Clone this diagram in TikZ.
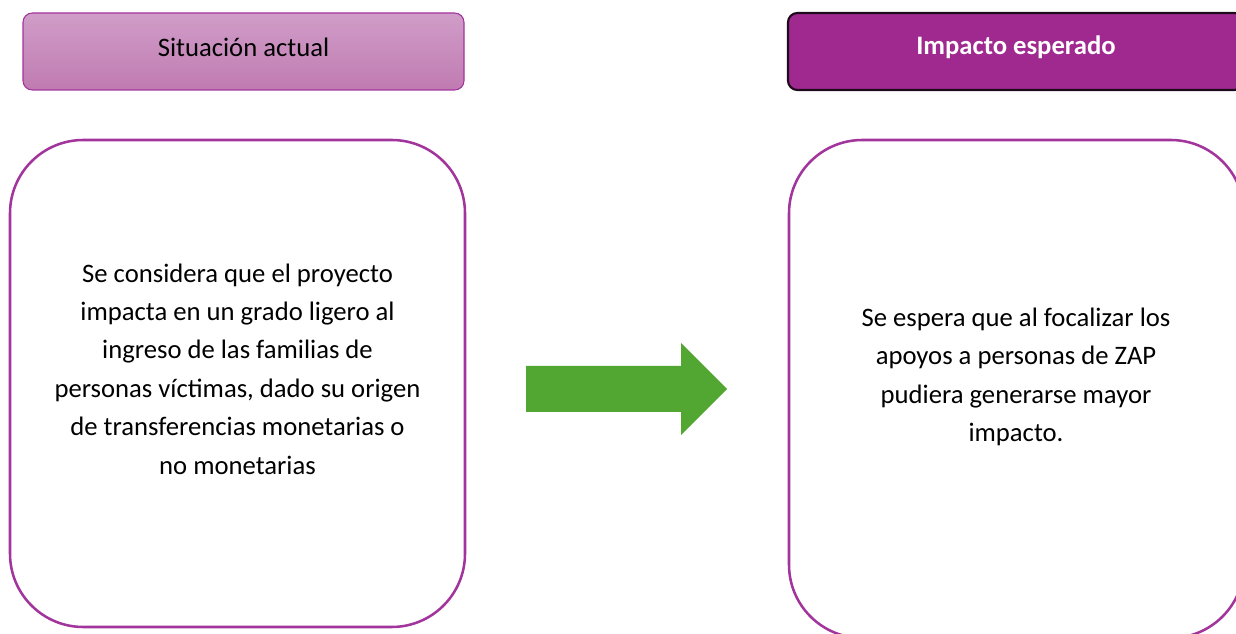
\documentclass[tikz,border=0pt]{standalone}
\usepackage{fontspec}
\setmainfont{Carlito}
\definecolor{morado}{HTML}{A0298F}
\definecolor{moradoborde}{HTML}{A2359C}
\definecolor{rosaarriba}{HTML}{D09DC8}
\definecolor{rosaabajo}{HTML}{C07BB1}
\definecolor{oscuro}{HTML}{1E0A1A}
\definecolor{verde}{HTML}{52A732}
\begin{document}
\begin{tikzpicture}[x=0.75pt,y=-0.75pt,
    cabecera/.style={rounded corners=7pt, minimum width=330.75pt, minimum height=57.75pt,
      inner sep=0pt},
    caja/.style={draw=moradoborde, line width=1.9pt, rounded corners=55pt,
      minimum width=341.25pt, inner sep=0pt},
    texto/.style={align=center, inner sep=0pt, font=\fontsize{20}{28.8}\selectfont}]
  \useasboundingbox (0,0) rectangle (1236,634);
  \clip (0,0) rectangle (1236,634);
  % header boxes
  \node[cabecera, draw=moradoborde, line width=0.8pt, top color=rosaarriba,
    bottom color=rosaabajo] (actual) at (243.5,51.5) {};
  \node (tituloactual) at (243.5,47) {\fontsize{20}{24}\selectfont Situación actual};
  \node[cabecera, draw=oscuro, line width=1.6pt, fill=morado,
    minimum width=342pt] (esperado) at (1016,51.5) {};
  \node[text=white] (tituloesperado) at (1016,47) {\fontsize{20}{24}\selectfont\bfseries Impacto esperado};
  % big boxes
  \node[caja, minimum height=365.25pt] (cajaactual) at (237.5,383.5) {};
  \node[caja, minimum height=373.5pt] (cajaesperado) at (1016.5,389) {};
  \node[texto] (textoactual) at (237.5,369) {Se considera que el proyecto\\
    impacta en un grado ligero al\\ ingreso de las familias de\\
    personas víctimas, dado su origen\\ de transferencias monetarias o\\
    no monetarias};
  \node[texto] (textoesperado) at (1016,377) {Se espera que al focalizar los\\
    apoyos a personas de ZAP\\ pudiera generarse mayor\\ impacto.};
  % arrow
  \fill[verde] (526,366) -- (681,366) -- (681,343) -- (727,389) -- (681,435)
    -- (681,412) -- (526,412) -- cycle;
\end{tikzpicture}
\end{document}
